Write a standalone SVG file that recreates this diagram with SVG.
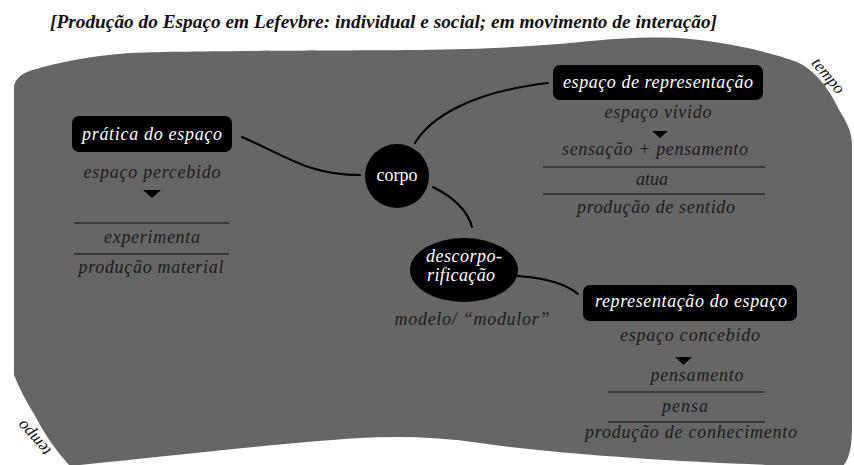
<svg xmlns="http://www.w3.org/2000/svg" width="854" height="465" viewBox="0 0 854 465">
<defs>
<style>
text{font-family:"Liberation Serif","Times New Roman","DejaVu Serif",serif}
.title{font-weight:bold;font-style:italic;font-size:19px;fill:#111}
.lbl{font-style:italic;font-size:18px;fill:#1c1c1c;text-anchor:middle}
.wht{font-style:italic;font-size:18px;fill:#fff;text-anchor:middle}
.tmp{font-style:italic;font-size:17px;fill:#111;text-anchor:middle}
.box{fill:#000}
.rule{stroke:#2e2e2e;stroke-width:1.5;fill:none}
.tri{fill:#000}
.conn{stroke:#000;stroke-width:2;fill:none;stroke-linecap:round}
</style>
</defs>
<rect width="854" height="465" fill="#fff"/>
<text class="title" x="50" y="28" textLength="667" lengthAdjust="spacingAndGlyphs">[Produção do Espaço em Lefevbre: individual e social; em movimento de interação]</text>
<g id="blob">
<path fill="#666" d="M14,86 C16,77 24,72 36,69 C60,62 90,56 130,53 C170,51 250,51 420,50 C480,49 530,47 580,42 C620,38 660,36 690,39 C730,43 770,52 797,62 C815,70 830,90 838,108 C845,120 852,130 852,145 L852,425 C852,445 850,458 843,466 L800,466 C700,463 560,455 480,443 C440,437 400,436 360,438 C280,443 180,455 70,466 Q50,445 34,414 Q22,395 14,375 Z"/>
<text class="tmp" transform="translate(828,76) rotate(50)" x="0" y="5">tempo</text>
<text class="tmp" transform="translate(34,438) rotate(-132)" x="0" y="5">tempo</text>
</g>
<g id="connectors">
<path class="conn" d="M242,137 C290,158 310,175 360,175"/>
<path class="conn" d="M415,143 C430,118 470,92 548,83"/>
<path class="conn" d="M433,187 C455,198 468,212 472,227"/>
<path class="conn" d="M518,276 C545,278 565,283 578,294"/>
</g>
<g id="corpo">
<circle cx="397" cy="176" r="32" fill="#000"/>
<text x="397" y="181" fill="#fff" font-size="18" text-anchor="middle">corpo</text>
</g>
<g id="descorporificacao">
<ellipse cx="464" cy="270" rx="54" ry="32" fill="#000"/>
<text class="wht" x="464" y="262" font-size="14" textLength="76">descorpo-</text>
<text class="wht" x="461" y="281" font-size="14" textLength="68">rificação</text>
<text class="lbl" x="472" y="325" textLength="155">modelo/ “modulor”</text>
</g>
<g id="pratica">
<rect class="box" x="72" y="116" width="160" height="36" rx="7"/>
<text class="wht" x="152" y="140" textLength="140">prática do espaço</text>
<text class="lbl" x="152" y="178" textLength="137">espaço percebido</text>
<path class="tri" d="M143,190 L161,190 L152,198 Z"/>
<line class="rule" x1="74" y1="223" x2="229" y2="223"/>
<text class="lbl" x="152" y="243" textLength="96">experimenta</text>
<line class="rule" x1="74" y1="254" x2="229" y2="254"/>
<text class="lbl" x="151" y="273" textLength="145">produção material</text>
</g>
<g id="espaco-representacao">
<rect class="box" x="553" y="65" width="210" height="35" rx="7"/>
<text class="wht" x="658" y="88" textLength="190">espaço de representação</text>
<text class="lbl" x="658" y="118" textLength="107">espaço vivido</text>
<path class="tri" d="M652,131 L668,131 L660,138 Z"/>
<text class="lbl" x="655" y="155" textLength="186">sensação + pensamento</text>
<line class="rule" x1="543" y1="167" x2="765" y2="167"/>
<text class="lbl" x="652" y="185">atua</text>
<line class="rule" x1="543" y1="194" x2="765" y2="194"/>
<text class="lbl" x="656" y="213" textLength="158">produção de sentido</text>
</g>
<g id="representacao-espaco">
<rect class="box" x="583" y="285" width="214" height="36" rx="7"/>
<text class="wht" x="691" y="307" textLength="192">representação do espaço</text>
<text class="lbl" x="690" y="341" textLength="140">espaço concebido</text>
<path class="tri" d="M675,357 L692,357 L683.5,365 Z"/>
<text class="lbl" x="697" y="381" textLength="93">pensamento</text>
<line class="rule" x1="608" y1="392" x2="765" y2="392"/>
<text class="lbl" x="685" y="412" textLength="46">pensa</text>
<line class="rule" x1="608" y1="422" x2="765" y2="422"/>
<text class="lbl" x="691" y="438" textLength="212">produção de conhecimento</text>
</g>
</svg>
